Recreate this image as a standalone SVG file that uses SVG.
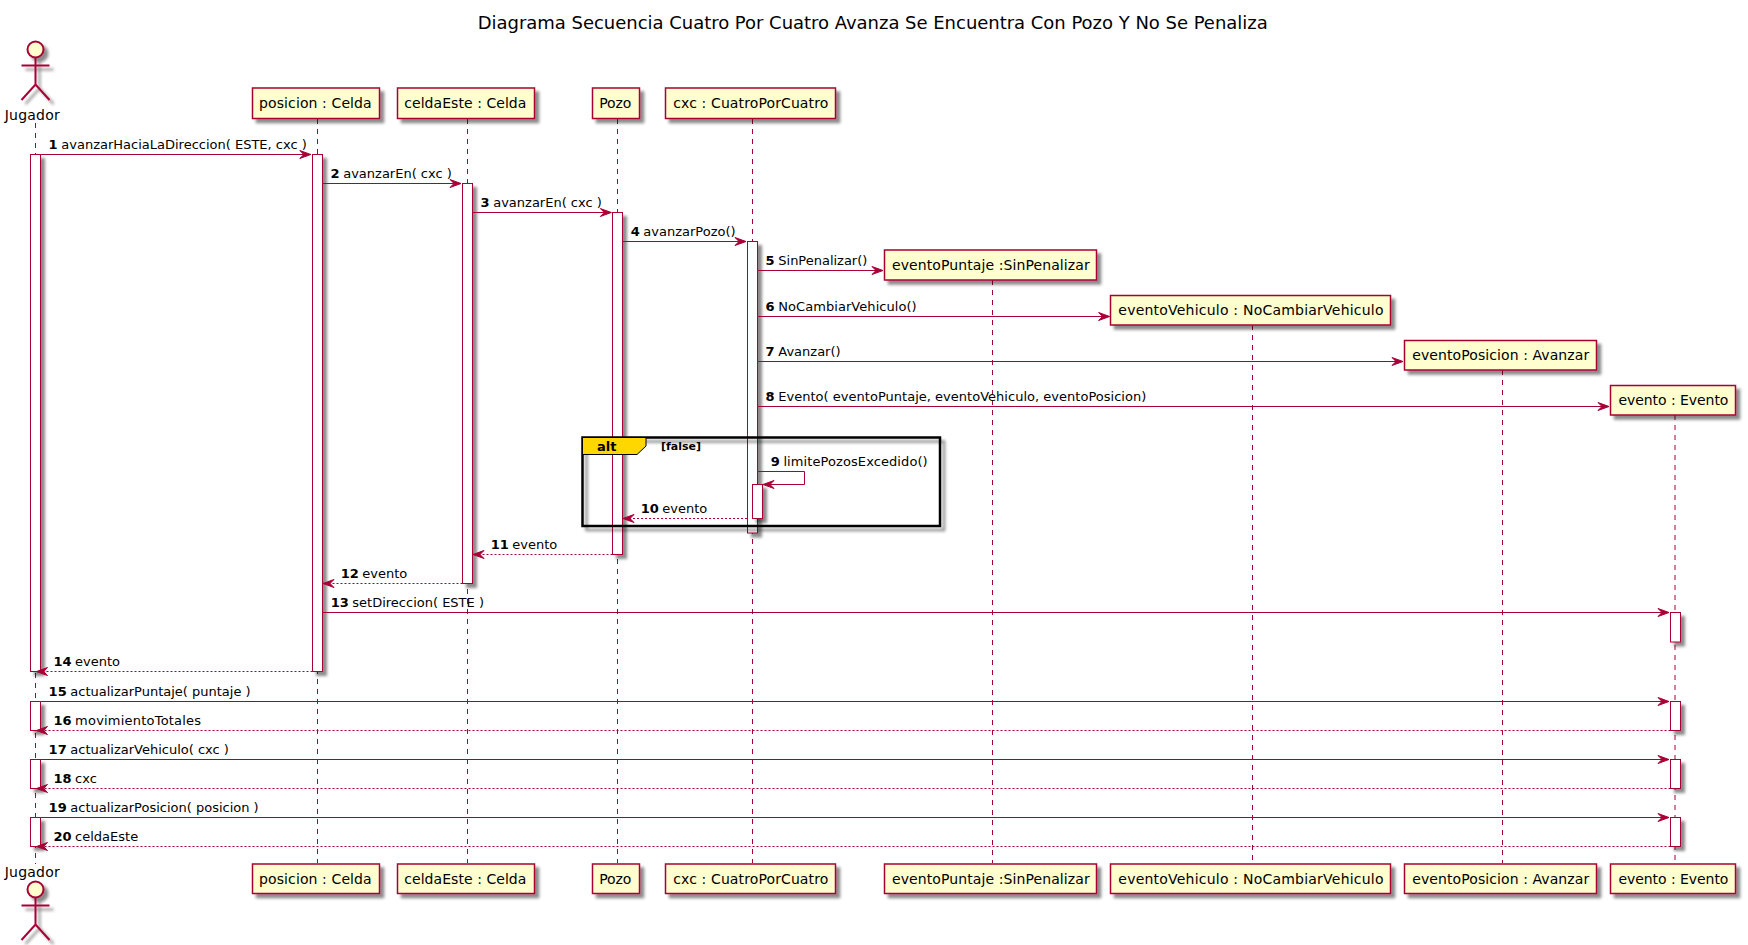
<svg xmlns="http://www.w3.org/2000/svg" width="1748" height="945" viewBox="0 0 1748 945">
<style>
text{font-family:"DejaVu Sans","Liberation Sans",sans-serif;font-size:13px;fill:#000}
.title{font-size:18px}
.n{font-weight:bold}
.p{font-size:14px}
.box{fill:#FEFECE;stroke:#A80036;stroke-width:1.5;filter:url(#sh)}
.life{stroke:#A80036;stroke-width:1;stroke-dasharray:5,5;fill:none}
.act{fill:#fff;stroke:#A80036;stroke-width:1;filter:url(#sh)}
.m{stroke:#A80036;stroke-width:1;fill:none;marker-end:url(#ah)}
.r{stroke-dasharray:2,2}
.actor{fill:none;stroke:#A80036;stroke-width:2}
.head{fill:#FEFECE}
.frame{fill:none;stroke:#000;stroke-width:2.5;filter:url(#sh)}
.tab{fill:#FFD700;stroke:#000;stroke-width:1}
.alt{font-size:13px;font-weight:bold}
.cond{font-size:11px;font-weight:bold}
</style>
<defs>
<filter id="sh" x="-100%" y="-50%" width="300%" height="200%"><feDropShadow dx="4" dy="4" stdDeviation="1.5" flood-color="#000" flood-opacity="0.45"/></filter>
<marker id="ah" markerUnits="userSpaceOnUse" markerWidth="14" markerHeight="12" refX="11" refY="5" orient="auto" overflow="visible"><path d="M0,1 L11,5 L0,9 L4,5 Z" fill="#A80036" stroke="#A80036" stroke-width="1"/></marker>
</defs>
<rect width="1748" height="945" fill="#fff"/>
<text class="title" x="477.7" y="29" textLength="790" lengthAdjust="spacing">Diagrama Secuencia Cuatro Por Cuatro Avanza Se Encuentra Con Pozo Y No Se Penaliza</text>

<g id="jugador">
<line class="life" x1="35.5" y1="123" x2="35.5" y2="864"/>
<g filter="url(#sh)" class="actor"><ellipse class="head" cx="35.5" cy="49.5" rx="8" ry="8"/><path d="M35.5,57.5V84.5M21.5,65.5H49.5M21.5,100L35.5,84.5L49.5,100"/></g>
<text class="p" x="4.7" y="120" textLength="55">Jugador</text>
<text class="p" x="4.7" y="877" textLength="55">Jugador</text>
<g filter="url(#sh)" class="actor"><ellipse class="head" cx="35.5" cy="889.5" rx="8" ry="8"/><path d="M35.5,897.5V924.5M21.5,905.5H49.5M21.5,940L35.5,924.5L49.5,940"/></g>
<rect class="act" x="30.5" y="154.5" width="10" height="517"/>
<rect class="act" x="30.5" y="701.5" width="10" height="29"/>
<rect class="act" x="30.5" y="759.5" width="10" height="29"/>
<rect class="act" x="30.5" y="817.5" width="10" height="29"/>
</g>

<g id="posicion">
<line class="life" x1="317.5" y1="119" x2="317.5" y2="863"/>
<rect class="box" x="252.5" y="88" width="127" height="30.5"/><text class="p" x="259" y="108" textLength="112.7">posicion : Celda</text>
<rect class="box" x="252.5" y="864" width="127" height="29.5"/><text class="p" x="259" y="884" textLength="112.7">posicion : Celda</text>
<rect class="act" x="312.5" y="154.5" width="10" height="517"/>
</g>

<g id="celdaEste">
<line class="life" x1="467.5" y1="119" x2="467.5" y2="863"/>
<rect class="box" x="397.5" y="88" width="137" height="30.5"/><text class="p" x="404.2" y="108" textLength="122.2">celdaEste : Celda</text>
<rect class="box" x="397.5" y="864" width="137" height="29.5"/><text class="p" x="404.2" y="884" textLength="122.2">celdaEste : Celda</text>
<rect class="act" x="462.5" y="183.5" width="10" height="400"/>
</g>

<g id="pozo">
<line class="life" x1="617.5" y1="119" x2="617.5" y2="863"/>
<rect class="box" x="592.5" y="88" width="47" height="30.5"/><text class="p" x="599.3" y="108" textLength="32">Pozo</text>
<rect class="box" x="592.5" y="864" width="47" height="29.5"/><text class="p" x="599.3" y="884" textLength="32">Pozo</text>
<rect class="act" x="612.5" y="212.5" width="10" height="342"/>
</g>

<g id="cxc">
<line class="life" x1="752.5" y1="119" x2="752.5" y2="863"/>
<rect class="box" x="665.5" y="88" width="170" height="30.5"/><text class="p" x="673.3" y="108" textLength="155">cxc : CuatroPorCuatro</text>
<rect class="box" x="665.5" y="864" width="170" height="29.5"/><text class="p" x="673.3" y="884" textLength="155">cxc : CuatroPorCuatro</text>
<rect class="act" x="747.5" y="241.5" width="10" height="291.5"/>
<rect class="act" x="752.5" y="484.5" width="10" height="34"/>
</g>

<g id="eventoPuntaje">
<line class="life" x1="992.5" y1="280" x2="992.5" y2="863"/>
<rect class="box" x="884.5" y="250" width="212" height="30"/><text class="p" x="892" y="270" textLength="197.7">eventoPuntaje :SinPenalizar</text>
<rect class="box" x="884.5" y="864" width="212" height="29.5"/><text class="p" x="892" y="884" textLength="197.7">eventoPuntaje :SinPenalizar</text>
</g>

<g id="eventoVehiculo">
<line class="life" x1="1252.5" y1="325" x2="1252.5" y2="863"/>
<rect class="box" x="1110.5" y="295.5" width="280" height="29.5"/><text class="p" x="1118.3" y="315" textLength="265.2">eventoVehiculo : NoCambiarVehiculo</text>
<rect class="box" x="1110.5" y="864" width="280" height="29.5"/><text class="p" x="1118.3" y="884" textLength="265.2">eventoVehiculo : NoCambiarVehiculo</text>
</g>

<g id="eventoPosicion">
<line class="life" x1="1502.5" y1="370" x2="1502.5" y2="863"/>
<rect class="box" x="1404.5" y="340.5" width="192" height="29.5"/><text class="p" x="1412.2" y="360" textLength="177">eventoPosicion : Avanzar</text>
<rect class="box" x="1404.5" y="864" width="192" height="29.5"/><text class="p" x="1412.2" y="884" textLength="177">eventoPosicion : Avanzar</text>
</g>

<g id="evento">
<line class="life" x1="1675" y1="415" x2="1675" y2="863"/>
<rect class="box" x="1610.5" y="385.5" width="125" height="29.5"/><text class="p" x="1618.4" y="405" textLength="110">evento : Evento</text>
<rect class="box" x="1610.5" y="864" width="125" height="29.5"/><text class="p" x="1618.4" y="884" textLength="110">evento : Evento</text>
<rect class="act" x="1670.5" y="612.5" width="10" height="29.5"/>
<rect class="act" x="1670.5" y="701.5" width="10" height="29"/>
<rect class="act" x="1670.5" y="759.5" width="10" height="29"/>
<rect class="act" x="1670.5" y="817.5" width="10" height="29"/>
</g>

<g id="alt">
<rect class="frame" x="582.5" y="437.5" width="357.5" height="88.5"/>
<path class="tab" d="M582.5,437.5H646V446L637,454.5H582.5Z"/>
<text class="alt" x="597" y="451">alt</text>
<text class="cond" x="661" y="450">[false]</text>
</g>

<g id="connectors">
<line class="m" x1="35.5" y1="154.5" x2="310.8" y2="154.5"/>
<line class="m" x1="322.5" y1="183.5" x2="461" y2="183.5"/>
<line class="m" x1="472.5" y1="212.5" x2="611.3" y2="212.5"/>
<line class="m" x1="622.5" y1="241.5" x2="746" y2="241.5"/>
<line class="m" x1="757.5" y1="270.5" x2="883" y2="270.5"/>
<line class="m" x1="757.5" y1="316.5" x2="1109.6" y2="316.5"/>
<line class="m" x1="757.5" y1="361.5" x2="1403" y2="361.5"/>
<line class="m" x1="757.5" y1="406.5" x2="1609" y2="406.5"/>
<path class="m" d="M757.5,471.5H804.5V484.5H763"/>
<line class="m r" x1="747" y1="518.5" x2="623" y2="518.5"/>
<line class="m r" x1="612.5" y1="554.5" x2="473" y2="554.5"/>
<line class="m r" x1="462.5" y1="583.5" x2="323" y2="583.5"/>
<line class="m" x1="322.5" y1="612.5" x2="1669" y2="612.5"/>
<line class="m r" x1="312.5" y1="671.5" x2="36.5" y2="671.5"/>
<line class="m" x1="35.5" y1="701.5" x2="1669" y2="701.5"/>
<line class="m r" x1="1670.5" y1="730.5" x2="36.5" y2="730.5"/>
<line class="m" x1="35.5" y1="759.5" x2="1669" y2="759.5"/>
<line class="m r" x1="1670.5" y1="788.5" x2="36.5" y2="788.5"/>
<line class="m" x1="35.5" y1="817.5" x2="1669" y2="817.5"/>
<line class="m r" x1="1670.5" y1="846.5" x2="36.5" y2="846.5"/>
<text y="149"><tspan class="n" x="48.6">1</tspan><tspan x="61.3">avanzarHaciaLaDireccion( ESTE, cxc )</tspan></text>
<text y="178"><tspan class="n" x="330.5">2</tspan><tspan x="343.2">avanzarEn( cxc )</tspan></text>
<text y="207"><tspan class="n" x="480.5">3</tspan><tspan x="493.2">avanzarEn( cxc )</tspan></text>
<text y="236"><tspan class="n" x="630.7">4</tspan><tspan x="643.3">avanzarPozo()</tspan></text>
<text y="265"><tspan class="n" x="765.6">5</tspan><tspan x="778.3" textLength="89">SinPenalizar()</tspan></text>
<text y="311"><tspan class="n" x="765.6">6</tspan><tspan x="778.3" textLength="138.4">NoCambiarVehiculo()</tspan></text>
<text y="356"><tspan class="n" x="765.6">7</tspan><tspan x="778.3">Avanzar()</tspan></text>
<text y="401"><tspan class="n" x="765.6">8</tspan><tspan x="778.3" textLength="368">Evento( eventoPuntaje, eventoVehiculo, eventoPosicion)</tspan></text>
<text y="466"><tspan class="n" x="770.8">9</tspan><tspan x="783.4" textLength="144.3">limitePozosExcedido()</tspan></text>
<text y="513"><tspan class="n" x="640.7">10</tspan><tspan x="662.3">evento</tspan></text>
<text y="549"><tspan class="n" x="490.7">11</tspan><tspan x="512.3">evento</tspan></text>
<text y="578"><tspan class="n" x="340.7">12</tspan><tspan x="362.3">evento</tspan></text>
<text y="607"><tspan class="n" x="330.7">13</tspan><tspan x="352.3">setDireccion( ESTE )</tspan></text>
<text y="666"><tspan class="n" x="53.4">14</tspan><tspan x="75.1">evento</tspan></text>
<text y="696"><tspan class="n" x="48.6">15</tspan><tspan x="70.3">actualizarPuntaje( puntaje )</tspan></text>
<text y="725"><tspan class="n" x="53.4">16</tspan><tspan x="75.1" textLength="126">movimientoTotales</tspan></text>
<text y="754"><tspan class="n" x="48.6">17</tspan><tspan x="70.3">actualizarVehiculo( cxc )</tspan></text>
<text y="783"><tspan class="n" x="53.4">18</tspan><tspan x="75.1">cxc</tspan></text>
<text y="812"><tspan class="n" x="48.6">19</tspan><tspan x="70.3">actualizarPosicion( posicion )</tspan></text>
<text y="841"><tspan class="n" x="53.4">20</tspan><tspan x="75.1">celdaEste</tspan></text>
</g>
</svg>
